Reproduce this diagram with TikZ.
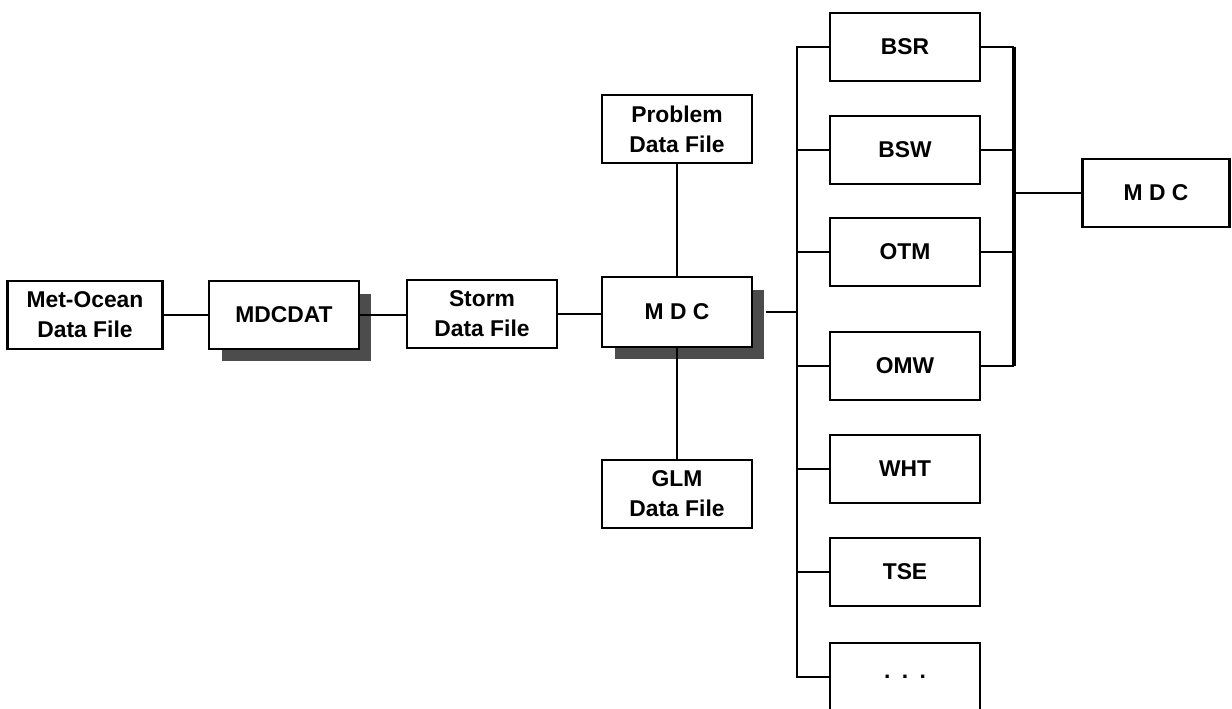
\documentclass[tikz,border=0pt]{standalone}
\usepackage{fontspec}
\setmainfont{Liberation Sans}
\usetikzlibrary{shadows}

\begin{document}
\begin{tikzpicture}[x=0.02cm,y=-0.02cm]
    \tikzset{%
      box/.style={draw, line width=1.3pt, fill=white, minimum width=3cm,
        minimum height=1.36cm, align=center, inner sep=2pt,
        font=\fontsize{13}{17}\selectfont\bfseries},
      prog/.style={box, drop shadow={shadow xshift=0.25cm,
        shadow yshift=-0.25cm, fill=black!70, opacity=1}},
      wire/.style={line width=1.3pt},
      bus/.style={line width=2pt},
    }
    \useasboundingbox (0,0) rectangle (1232,709);

    % input chain
    \node[box, minimum width=3.1cm] (MO) at (85,315) {Met-Ocean\\Data File};
    \node[prog] (DAT) at (284,315) {MDCDAT};
    \node[box] (ST) at (482,314) {Storm\\Data File};
    \node[prog, minimum height=1.4cm] (MDC) at (677,312) {M D C};
    \node[box] (PR) at (677,129) {Problem\\Data File};
    \node[box] (GLM) at (677,494) {GLM\\Data File};

    \draw [wire] (MO) -- (DAT);
    \draw [wire] (DAT.east) -- (DAT.east -| ST.west);
    \draw [wire] (ST.east) -- (ST.east -| MDC.west);
    \draw [wire] (PR) -- (MDC);
    \draw [wire] (MDC) -- (GLM);

    % modules
    \node[box] (BSR) at (905,47) {BSR};
    \node[box] (BSW) at (905,150) {BSW};
    \node[box] (OTM) at (905,252) {OTM};
    \node[box] (OMW) at (905,366) {OMW};
    \node[box] (WHT) at (905,469) {WHT};
    \node[box] (TSE) at (905,572) {TSE};
    \node[box] (DOT) at (905,677) {.\enspace.\enspace.};

    \coordinate (L) at (797,0);
    \coordinate (R) at (1014,0);

    % left bus
    \draw [wire] (BSR.west) -- (BSR.west -| L) -- (DOT.west -| L) -- (DOT.west);
    \foreach \m in {BSW,OTM,OMW,WHT,TSE}
      \draw [wire] (\m.west -| L) -- (\m.west);
    \draw [wire] (MDC.east) ++(0.25cm,0) -- (MDC.east -| L);

    % right bus
    \draw [bus] (BSR.east -| R) -- (OMW.east -| R);
    \foreach \m in {BSR,BSW,OTM,OMW}
      \draw [wire] (\m.east) -- (\m.east -| R);

    \node[box, minimum width=2.94cm] (OUT) at (1156,193) {M D C};
    \draw [wire] (OUT.west -| R) -- (OUT.west);
\end{tikzpicture}
\end{document}
